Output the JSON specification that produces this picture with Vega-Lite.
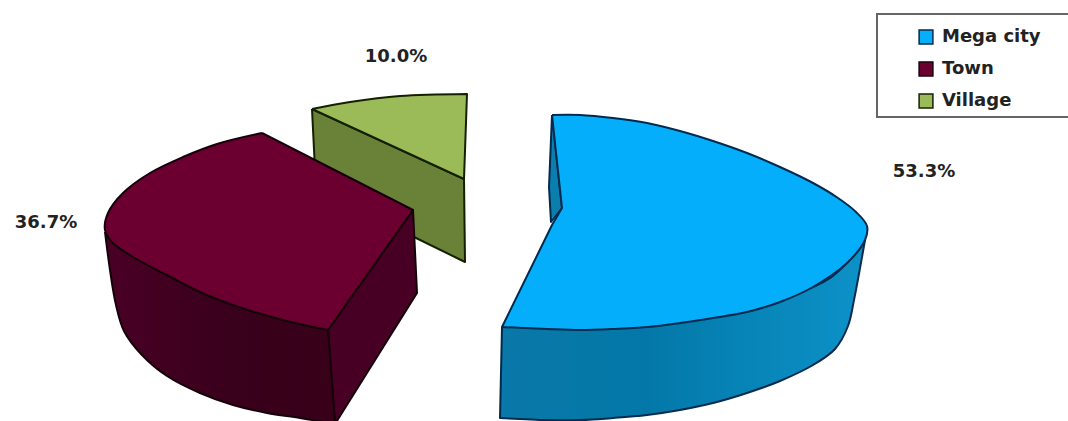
{
  "$schema": "https://vega.github.io/schema/vega-lite/v6.json",
  "width": 1068,
  "height": 421,
  "padding": 0,
  "autosize": {"type": "none"},
  "background": "white",
  "view": {"stroke": null},
  "datasets": {
    "faces": [
      {"slice":"Village","face":"village-side","n":1,"x":312,"y":109},
      {"slice":"Village","face":"village-side","n":2,"x":464,"y":179},
      {"slice":"Village","face":"village-side","n":3,"x":465,"y":262},
      {"slice":"Village","face":"village-side","n":4,"x":414,"y":237},
      {"slice":"Village","face":"village-side","n":5,"x":316,"y":190},
      {"slice":"Village","face":"village-side","n":6,"x":312,"y":109},

      {"slice":"Town","face":"town-right","n":1,"x":328,"y":330},
      {"slice":"Town","face":"town-right","n":2,"x":413,"y":210},
      {"slice":"Town","face":"town-right","n":3,"x":417,"y":293},
      {"slice":"Town","face":"town-right","n":4,"x":335,"y":424},
      {"slice":"Town","face":"town-right","n":5,"x":328,"y":330},

      {"slice":"Mega city","face":"mega-inner","n":1,"x":552,"y":115},
      {"slice":"Mega city","face":"mega-inner","n":2,"x":549,"y":187},
      {"slice":"Mega city","face":"mega-inner","n":3,"x":551,"y":222},
      {"slice":"Mega city","face":"mega-inner","n":4,"x":562,"y":208},
      {"slice":"Mega city","face":"mega-inner","n":5,"x":552,"y":115},

      {"slice":"Town","face":"town-front","n":1,"x":105,"y":232},
      {"slice":"Town","face":"town-front","n":2,"x":110,"y":270},
      {"slice":"Town","face":"town-front","n":3,"x":116,"y":305},
      {"slice":"Town","face":"town-front","n":4,"x":124,"y":331},
      {"slice":"Town","face":"town-front","n":5,"x":141,"y":354},
      {"slice":"Town","face":"town-front","n":6,"x":167,"y":376},
      {"slice":"Town","face":"town-front","n":7,"x":200,"y":393},
      {"slice":"Town","face":"town-front","n":8,"x":233,"y":405},
      {"slice":"Town","face":"town-front","n":9,"x":267,"y":413},
      {"slice":"Town","face":"town-front","n":10,"x":300,"y":418},
      {"slice":"Town","face":"town-front","n":11,"x":335,"y":424},
      {"slice":"Town","face":"town-front","n":12,"x":335,"y":424},
      {"slice":"Town","face":"town-front","n":13,"x":328,"y":330},
      {"slice":"Town","face":"town-front","n":14,"x":328,"y":330},
      {"slice":"Town","face":"town-front","n":15,"x":283,"y":320},
      {"slice":"Town","face":"town-front","n":16,"x":233,"y":305},
      {"slice":"Town","face":"town-front","n":17,"x":200,"y":292},
      {"slice":"Town","face":"town-front","n":18,"x":167,"y":275},
      {"slice":"Town","face":"town-front","n":19,"x":133,"y":257},
      {"slice":"Town","face":"town-front","n":20,"x":113,"y":243},
      {"slice":"Town","face":"town-front","n":21,"x":105,"y":232},

      {"slice":"Mega city","face":"mega-front","n":1,"x":502,"y":327},
      {"slice":"Mega city","face":"mega-front","n":2,"x":500,"y":418},
      {"slice":"Mega city","face":"mega-front","n":3,"x":500,"y":418},
      {"slice":"Mega city","face":"mega-front","n":4,"x":547,"y":420},
      {"slice":"Mega city","face":"mega-front","n":5,"x":580,"y":420},
      {"slice":"Mega city","face":"mega-front","n":6,"x":613,"y":418},
      {"slice":"Mega city","face":"mega-front","n":7,"x":647,"y":415},
      {"slice":"Mega city","face":"mega-front","n":8,"x":680,"y":410},
      {"slice":"Mega city","face":"mega-front","n":9,"x":713,"y":403},
      {"slice":"Mega city","face":"mega-front","n":10,"x":747,"y":393},
      {"slice":"Mega city","face":"mega-front","n":11,"x":780,"y":381},
      {"slice":"Mega city","face":"mega-front","n":12,"x":813,"y":365},
      {"slice":"Mega city","face":"mega-front","n":13,"x":835,"y":349},
      {"slice":"Mega city","face":"mega-front","n":14,"x":848,"y":326},
      {"slice":"Mega city","face":"mega-front","n":15,"x":854,"y":300},
      {"slice":"Mega city","face":"mega-front","n":16,"x":865,"y":240},
      {"slice":"Mega city","face":"mega-front","n":17,"x":865,"y":240},
      {"slice":"Mega city","face":"mega-front","n":18,"x":847,"y":263},
      {"slice":"Mega city","face":"mega-front","n":19,"x":813,"y":287},
      {"slice":"Mega city","face":"mega-front","n":20,"x":502,"y":327},

      {"slice":"Village","face":"village-top","n":1,"x":312,"y":109},
      {"slice":"Village","face":"village-top","n":2,"x":350,"y":102},
      {"slice":"Village","face":"village-top","n":3,"x":400,"y":96},
      {"slice":"Village","face":"village-top","n":4,"x":467,"y":94},
      {"slice":"Village","face":"village-top","n":5,"x":467,"y":94},
      {"slice":"Village","face":"village-top","n":6,"x":464,"y":179},
      {"slice":"Village","face":"village-top","n":7,"x":464,"y":179},
      {"slice":"Village","face":"village-top","n":8,"x":312,"y":109},

      {"slice":"Town","face":"town-top","n":1,"x":262,"y":133},
      {"slice":"Town","face":"town-top","n":2,"x":413,"y":210},
      {"slice":"Town","face":"town-top","n":3,"x":413,"y":210},
      {"slice":"Town","face":"town-top","n":4,"x":328,"y":330},
      {"slice":"Town","face":"town-top","n":5,"x":328,"y":330},
      {"slice":"Town","face":"town-top","n":6,"x":283,"y":320},
      {"slice":"Town","face":"town-top","n":7,"x":233,"y":305},
      {"slice":"Town","face":"town-top","n":8,"x":200,"y":292},
      {"slice":"Town","face":"town-top","n":9,"x":167,"y":275},
      {"slice":"Town","face":"town-top","n":10,"x":133,"y":257},
      {"slice":"Town","face":"town-top","n":11,"x":113,"y":243},
      {"slice":"Town","face":"town-top","n":12,"x":105,"y":230},
      {"slice":"Town","face":"town-top","n":13,"x":108,"y":213},
      {"slice":"Town","face":"town-top","n":14,"x":123,"y":193},
      {"slice":"Town","face":"town-top","n":15,"x":150,"y":173},
      {"slice":"Town","face":"town-top","n":16,"x":183,"y":157},
      {"slice":"Town","face":"town-top","n":17,"x":217,"y":144},
      {"slice":"Town","face":"town-top","n":18,"x":262,"y":133},

      {"slice":"Mega city","face":"mega-top","n":1,"x":552,"y":115},
      {"slice":"Mega city","face":"mega-top","n":2,"x":580,"y":115},
      {"slice":"Mega city","face":"mega-top","n":3,"x":613,"y":118},
      {"slice":"Mega city","face":"mega-top","n":4,"x":647,"y":123},
      {"slice":"Mega city","face":"mega-top","n":5,"x":680,"y":131},
      {"slice":"Mega city","face":"mega-top","n":6,"x":713,"y":141},
      {"slice":"Mega city","face":"mega-top","n":7,"x":747,"y":153},
      {"slice":"Mega city","face":"mega-top","n":8,"x":780,"y":167},
      {"slice":"Mega city","face":"mega-top","n":9,"x":813,"y":183},
      {"slice":"Mega city","face":"mega-top","n":10,"x":838,"y":198},
      {"slice":"Mega city","face":"mega-top","n":11,"x":856,"y":212},
      {"slice":"Mega city","face":"mega-top","n":12,"x":867,"y":226},
      {"slice":"Mega city","face":"mega-top","n":13,"x":865,"y":240},
      {"slice":"Mega city","face":"mega-top","n":14,"x":847,"y":263},
      {"slice":"Mega city","face":"mega-top","n":15,"x":813,"y":287},
      {"slice":"Mega city","face":"mega-top","n":16,"x":780,"y":302},
      {"slice":"Mega city","face":"mega-top","n":17,"x":747,"y":312},
      {"slice":"Mega city","face":"mega-top","n":18,"x":713,"y":318},
      {"slice":"Mega city","face":"mega-top","n":19,"x":680,"y":323},
      {"slice":"Mega city","face":"mega-top","n":20,"x":647,"y":327},
      {"slice":"Mega city","face":"mega-top","n":21,"x":613,"y":329},
      {"slice":"Mega city","face":"mega-top","n":22,"x":580,"y":330},
      {"slice":"Mega city","face":"mega-top","n":23,"x":547,"y":329},
      {"slice":"Mega city","face":"mega-top","n":24,"x":523,"y":328},
      {"slice":"Mega city","face":"mega-top","n":25,"x":502,"y":327},
      {"slice":"Mega city","face":"mega-top","n":26,"x":502,"y":327},
      {"slice":"Mega city","face":"mega-top","n":27,"x":552,"y":225},
      {"slice":"Mega city","face":"mega-top","n":28,"x":552,"y":225},
      {"slice":"Mega city","face":"mega-top","n":29,"x":562,"y":208},
      {"slice":"Mega city","face":"mega-top","n":30,"x":562,"y":208},
      {"slice":"Mega city","face":"mega-top","n":31,"x":552,"y":115}
    ],
    "shares": [
      {"slice":"Mega city","share":0.533,"x":924,"y":172},
      {"slice":"Town","share":0.367,"x":46,"y":223},
      {"slice":"Village","share":0.1,"x":396,"y":57}
    ],
    "keyFrame": [
      {"x":877,"x2":1075,"y":14,"y2":117}
    ]
  },
  "encoding": {
    "x": {"field":"x","type":"quantitative","scale":{"domain":[0,1068]},"axis":null},
    "y": {"field":"y","type":"quantitative","scale":{"domain":[421,0]},"axis":null}
  },
  "layer": [
    {
      "data": {"name":"keyFrame"},
      "mark": {"type":"rect","fillOpacity":0,"stroke":"#666","strokeWidth":2,"clip":true},
      "encoding": {"x2":{"field":"x2"},"y2":{"field":"y2"}}
    },
    {
      "data": {"name":"faces"},
      "transform": [{"filter":"indexof(['village-side','town-right','mega-inner'], datum.face) >= 0"}],
      "mark": {"type":"line","strokeWidth":2,"strokeJoin":"round","clip":true},
      "encoding": {
        "order": {"field":"n","type":"quantitative"},
        "detail": {"field":"face"},
        "fill": {"field":"face","type":"nominal","legend":null,
          "scale":{"domain":["village-side","town-right","mega-inner"],"range":["#6a8138","#470024","#0a7fae"]}},
        "stroke": {"field":"slice","type":"nominal","legend":null,
          "scale":{"domain":["Mega city","Town","Village"],"range":["#012a4e","#15000a","#142000"]}}
      }
    },
    {
      "data": {"name":"faces"},
      "transform": [{"filter":"datum.face === 'town-front'"}],
      "mark": {"type":"line","interpolate":"catmull-rom","strokeWidth":2,"strokeJoin":"round","clip":true,"stroke":"#15000a",
        "fill":{"gradient":"linear","x1":0,"x2":1,"y1":0,"y2":0,
          "stops":[{"offset":0,"color":"#4a0026"},{"offset":0.5,"color":"#3a001c"},{"offset":1,"color":"#380019"}]}},
      "encoding": {"order":{"field":"n","type":"quantitative"}}
    },
    {
      "data": {"name":"faces"},
      "transform": [{"filter":"datum.face === 'mega-front'"}],
      "mark": {"type":"line","interpolate":"catmull-rom","strokeWidth":2,"strokeJoin":"round","clip":true,"stroke":"#012a4e",
        "fill":{"gradient":"linear","x1":0,"x2":1,"y1":0,"y2":0,
          "stops":[{"offset":0,"color":"#0a78a8"},{"offset":0.4,"color":"#0378a8"},{"offset":1,"color":"#0c92c8"}]}},
      "encoding": {"order":{"field":"n","type":"quantitative"}}
    },
    {
      "data": {"name":"faces"},
      "transform": [{"filter":"indexof(['village-top','town-top','mega-top'], datum.face) >= 0"}],
      "mark": {"type":"line","interpolate":"catmull-rom","strokeWidth":2,"strokeJoin":"round","clip":true},
      "encoding": {
        "order": {"field":"n","type":"quantitative"},
        "detail": {"field":"face"},
        "fill": {"field":"slice","type":"nominal",
          "scale":{"domain":["Mega city","Town","Village"],"range":["#04aefa","#6b0030","#9bbb59"]},
          "legend":{"title":null,"orient":"none","legendX":876,"legendY":16,
            "padding":12,"symbolType":"square","symbolSize":190,
            "symbolStrokeColor":"#111","symbolStrokeWidth":1.5,"symbolOffset":29,
            "labelFont":"DejaVu Sans","labelFontSize":18,"labelFontWeight":"bold","labelColor":"#222","labelOffset":7,
            "rowPadding":12,"labelLimit":300}},
        "stroke": {"field":"slice","type":"nominal","legend":null,
          "scale":{"domain":["Mega city","Town","Village"],"range":["#012a4e","#15000a","#142000"]}}
      }
    },
    {
      "data": {"name":"shares"},
      "mark": {"type":"text","font":"DejaVu Sans","fontSize":18,"fontWeight":"bold","color":"#222","clip":true},
      "encoding": {"text":{"field":"share","type":"quantitative","format":".1%"}}
    }
  ],
  "resolve": {"scale":{"fill":"independent","stroke":"independent"}}
}
